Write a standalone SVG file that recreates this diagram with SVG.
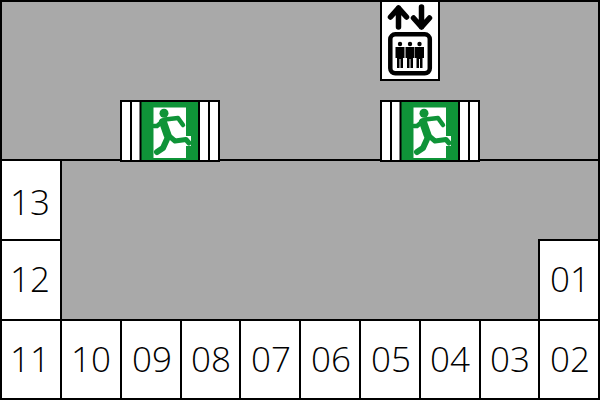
<svg xmlns="http://www.w3.org/2000/svg" width="600" height="400" viewBox="0 0 600 400">
<style>
.c{fill:#fff;stroke:#000;stroke-width:2}
.t{font-family:"Open Sans","Noto Sans",sans-serif;font-size:35px;font-weight:300;fill:#000;text-anchor:middle}
.s{fill:#fff;stroke:#000;stroke-width:2}
.k{fill:#000}
.l{fill:none;stroke:#000;stroke-linecap:round;stroke-linejoin:round}
.r{fill:none;stroke:#0f9438;stroke-linecap:round;stroke-linejoin:round}
</style>
<defs>
<g id="exit">
<rect class="s" x="1" y="1" width="98" height="60"/>
<rect class="k" x="10" y="0" width="2" height="60"/>
<rect class="k" x="19.500" y="0" width="2.500" height="60"/>
<rect class="k" x="78" y="0" width="2" height="60"/>
<rect class="k" x="88" y="0" width="2" height="60"/>
<rect x="21.500" y="2" width="56.500" height="58" fill="#0f9438"/>
<path d="M33.500 7.500H66V58H33.500Z" fill="#fff"/>
<path d="M64 36H71V46H64Z" fill="#fff"/>
<circle cx="44" cy="13.300" r="4.500" fill="#0f9438"/>
<path class="r" stroke-width="8" d="M43 22L47.500 35"/>
<path class="r" stroke-width="4.500" d="M43 21L37 26L34 26M45 19.500L58 18L63 25"/>
<path class="r" stroke-width="5" d="M48 35L55 41L66 39.500L69 43"/>
<path class="r" stroke-width="6" d="M48 37L43 48L37 52"/>
</g>
<g id="person" class="k">
<path d="M-4.500 3H4.500V14H3V24H0.500V15H-0.500V24H-3V14H-4.500Z"/>
</g>
</defs>
<rect x="1" y="1" width="598" height="398" fill="#a9a9a9" stroke="#000" stroke-width="2"/>
<g id="connectors"><path d="M0 160H600" stroke="#000" stroke-width="2" fill="none"/></g>
<g id="c13"><rect class="c" x="1" y="160" width="60" height="80"/><text class="t" x="30" y="215">13</text></g>
<g id="c12"><rect class="c" x="1" y="240" width="60" height="80"/><text class="t" x="30" y="292">12</text></g>
<g id="c11"><rect class="c" x="1" y="320" width="60" height="79"/><text class="t" x="30" y="372">11</text></g>
<g id="c10"><rect class="c" x="61" y="320" width="60" height="79"/><text class="t" x="91" y="372">10</text></g>
<g id="c09"><rect class="c" x="121" y="320" width="60" height="79"/><text class="t" x="152" y="372">09</text></g>
<g id="c08"><rect class="c" x="181" y="320" width="59" height="79"/><text class="t" x="211" y="372">08</text></g>
<g id="c07"><rect class="c" x="240" y="320" width="60" height="79"/><text class="t" x="271" y="372">07</text></g>
<g id="c06"><rect class="c" x="300" y="320" width="60" height="79"/><text class="t" x="331" y="372">06</text></g>
<g id="c05"><rect class="c" x="360" y="320" width="60" height="79"/><text class="t" x="391" y="372">05</text></g>
<g id="c04"><rect class="c" x="420" y="320" width="60" height="79"/><text class="t" x="450" y="372">04</text></g>
<g id="c03"><rect class="c" x="480" y="320" width="59" height="79"/><text class="t" x="510" y="372">03</text></g>
<g id="c02"><rect class="c" x="539" y="320" width="60" height="79"/><text class="t" x="570" y="372">02</text></g>
<g id="c01"><rect class="c" x="539" y="240" width="60" height="80"/><text class="t" x="570" y="292">01</text></g>
<g id="exit1"><use href="#exit" x="120" y="100"/></g>
<g id="exit2"><use href="#exit" x="380" y="100"/></g>
<g id="elevator">
<rect class="s" x="381" y="1" width="58" height="79"/>
<path class="l" stroke-width="5.500" d="M398.500 27V8M390.500 17L398.500 8L406.500 17"/>
<path class="l" stroke-width="5.500" d="M421.500 7V27M413.500 18L421.500 27L429.500 18"/>
<rect class="l" stroke-width="4.500" x="390.300" y="34.300" width="39.500" height="39" rx="5"/>
<circle class="k" cx="400" cy="44" r="2.200"/><circle class="k" cx="410" cy="44" r="2.200"/><circle class="k" cx="419.500" cy="44" r="2.200"/>
<use href="#person" x="400" y="44"/><use href="#person" x="410" y="44"/><use href="#person" x="419.500" y="44"/>
</g>
</svg>
